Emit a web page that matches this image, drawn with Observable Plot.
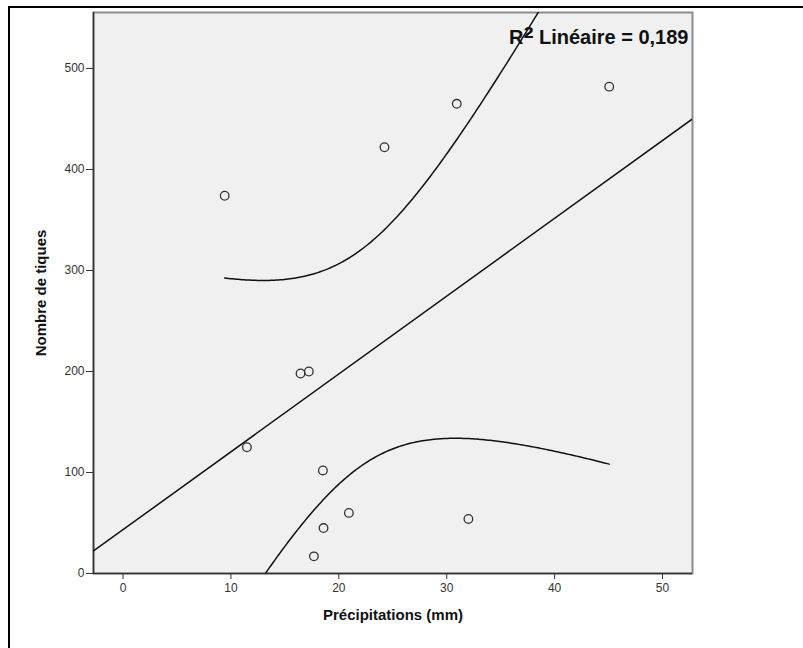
<!DOCTYPE html>
<html><head><meta charset="utf-8">
<script src="https://cdn.jsdelivr.net/npm/d3@7"></script>
<script src="https://cdn.jsdelivr.net/npm/@observablehq/plot@0.6"></script>
<style>
body{margin:0;background:#fff;}
#wrap{position:relative;width:803px;height:648px;overflow:hidden;font-family:"Liberation Sans",Arial,sans-serif;}
#border{position:absolute;left:8px;top:6px;width:900px;height:800px;border-left:2px solid #000;border-top:2px solid #000;}
#chart{position:absolute;left:0;top:0;}
</style></head><body>
<div id="wrap"><div id="border"></div><div id="chart"></div></div>
<script>
// Data
const precipitation = [9.42, 24.23, 30.93, 45.06, 16.45, 17.22, 11.48, 18.52, 20.93, 18.58, 17.69, 32.01];
const tickCounts    = [374, 422, 465, 482, 198, 200, 125, 102, 60, 45, 17, 54];
const xTicks = [0, 10, 20, 30, 40, 50];
const yTicks = [0, 100, 200, 300, 400, 500];
const xDomain = [-2.74, 52.78];
const yDomain = [0, 555.4];
const xLabel = "Précipitations (mm)";
const yLabel = "Nombre de tiques";
const r2Label = "R² Linéaire = 0,189";
const tCrit = 2.2281; // t(0.975, df = 10)

const data = precipitation.map((x, i) => ({x, y: tickCounts[i]}));

// least-squares fit and 95% mean confidence band, computed from the data
const n = data.length;
const mx = d3.mean(data, d => d.x), my = d3.mean(data, d => d.y);
const sxx = d3.sum(data, d => (d.x - mx) ** 2);
const sxy = d3.sum(data, d => (d.x - mx) * (d.y - my));
const slope = sxy / sxx, intercept = my - slope * mx;
const sse = d3.sum(data, d => (d.y - intercept - slope * d.x) ** 2);
const s = Math.sqrt(sse / (n - 2));
const fitLine = xDomain.map(x => ({x, y: intercept + slope * x}));
const [dxMin, dxMax] = d3.extent(data, d => d.x);
const band = d3.range(0, 201).map(i => {
  const x = dxMin + (dxMax - dxMin) * i / 200;
  const yh = intercept + slope * x;
  const h = tCrit * s * Math.sqrt(1 / n + (x - mx) ** 2 / sxx);
  return {x, lo: yh - h, hi: yh + h};
});

const font = "Liberation Sans, Arial, sans-serif";
const chart = Plot.plot({
  width: 803, height: 648,
  marginLeft: 93, marginRight: 111, marginTop: 12, marginBottom: 75,
  style: {background: "transparent", fontFamily: font, overflow: "visible"},
  x: {domain: xDomain},
  y: {domain: yDomain},
  marks: [
    Plot.frame({fill: "#f0f0f0", stroke: "#8c8c8c", strokeWidth: 2}),
    Plot.ruleX([xDomain[0]], {stroke: "#333", strokeWidth: 1.5}),
    Plot.ruleY([yDomain[0]], {stroke: "#333", strokeWidth: 1.5}),
    Plot.axisX({ticks: xTicks, tickSize: 6, tickPadding: 4, fontSize: 12, color: "#333", label: null}),
    Plot.axisY({ticks: yTicks, tickSize: 7, tickPadding: 2, fontSize: 12, color: "#333", label: null}),
    Plot.line(fitLine, {x: "x", y: "y", stroke: "#111", strokeWidth: 1.5, clip: true}),
    Plot.line(band, {x: "x", y: "hi", stroke: "#111", strokeWidth: 1.5, clip: true}),
    Plot.line(band, {x: "x", y: "lo", stroke: "#111", strokeWidth: 1.5, clip: true}),
    Plot.dot(data, {x: "x", y: "y", r: 4.3, stroke: "#333", strokeWidth: 1.3, fill: "none"}),
    Plot.text([r2Label], {frameAnchor: "top-right", textAnchor: "end", lineAnchor: "middle", dx: -4, dy: 25, fontSize: 20, fontWeight: "bold", fill: "#111", className: "r2"}),
    Plot.text([xLabel], {frameAnchor: "bottom", textAnchor: "middle", lineAnchor: "middle", dy: 42, fontSize: 15, fontWeight: "bold", fill: "#111"}),
    Plot.text([yLabel], {frameAnchor: "left", textAnchor: "middle", lineAnchor: "middle", dx: -52, rotate: -90, fontSize: 15, fontWeight: "bold", fill: "#111"})
  ]
});
// enlarge the superscript "²" like the reference
d3.select(chart).selectAll(".r2 text").each(function() {
  const t = d3.select(this);
  const str = t.text();
  const i = str.indexOf("²");
  if (i < 0) return;
  t.text(null);
  t.append("tspan").text(str.slice(0, i));
  t.append("tspan").attr("font-size", 30).attr("dy", 4).text("²");
  t.append("tspan").attr("dy", -4).text(str.slice(i + 1));
});
document.getElementById("chart").appendChild(chart);
</script>
</body></html>
